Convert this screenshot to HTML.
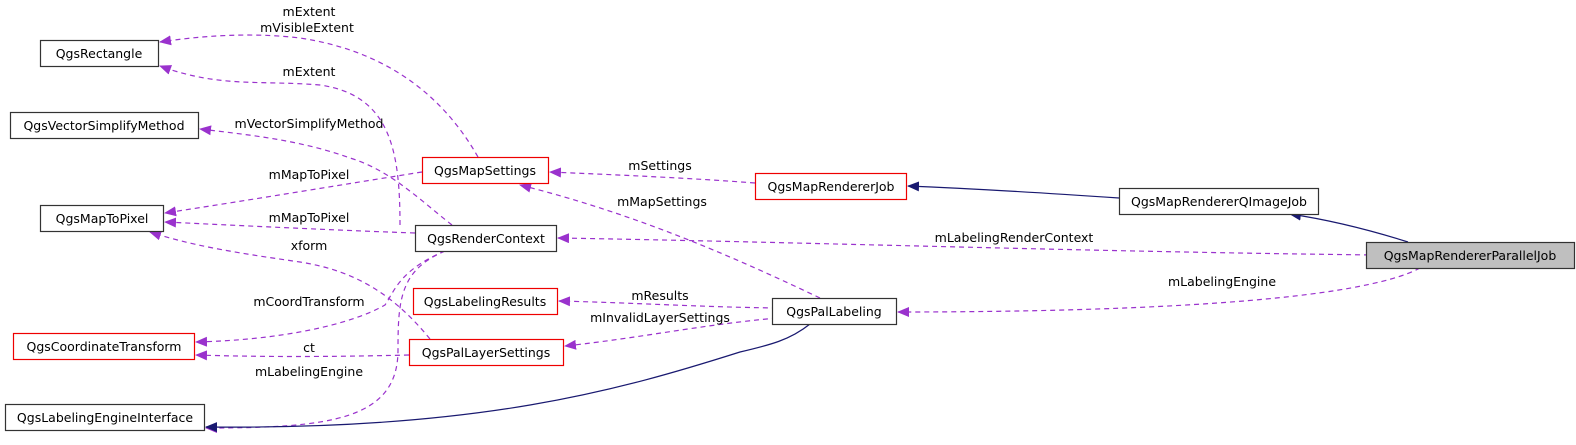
<!DOCTYPE html>
<html><head><meta charset="utf-8"><style>
html,body{margin:0;padding:0;background:#fff;}
svg text{font-family:"DejaVu Sans","Liberation Sans",sans-serif;font-size:12.5px;fill:#000;}
</style></head><body>
<svg width="1576" height="440" viewBox="0 0 1576 440" xmlns="http://www.w3.org/2000/svg">
<defs>
<marker id="p" markerWidth="12" markerHeight="10" refX="11" refY="5" orient="auto" markerUnits="userSpaceOnUse"><path d="M0,0 L12,5 L0,10 z" fill="#9a32cd"/></marker>
<marker id="b" markerWidth="12" markerHeight="10" refX="11" refY="5" orient="auto" markerUnits="userSpaceOnUse"><path d="M0,0 L12,5 L0,10 z" fill="#191970"/></marker>
</defs>
<g fill="none" stroke="#9a32cd" stroke-width="1.2" stroke-dasharray="5,4">
<path d="M478,157 C440,90 380,50 300,38 C250,32 200,36 160,42" marker-end="url(#p)"/>
<path d="M400,225 C400,150 390,95 320,85 C260,80 220,88 160,66" marker-end="url(#p)"/>
<path d="M452,225 C420,200 390,170 350,158 C300,140 250,135 200,129" marker-end="url(#p)"/>
<path d="M422,172 C340,185 250,200 165,213" marker-end="url(#p)"/>
<path d="M415,233 C330,230 250,226 165,222" marker-end="url(#p)"/>
<path d="M430,339 C390,290 350,270 300,262 C230,252 190,245 150,232" marker-end="url(#p)"/>
<path d="M445,251 C400,270 395,290 385,305 C350,325 280,340 196,342" marker-end="url(#p)"/>
<path d="M409,355 C330,357 260,357 196,355" marker-end="url(#p)"/>
<path d="M445,251 C400,270 398,300 398,350 C398,420 330,428 206,428" marker-end="url(#p)"/>
<path d="M755,183 C690,178 620,175 550,172" marker-end="url(#p)"/>
<path d="M820,298 C740,260 640,215 520,185" marker-end="url(#p)"/>
<path d="M1378,255 C1100,252 800,242 558,238" marker-end="url(#p)"/>
<path d="M777,308 C700,307 640,303 559,301" marker-end="url(#p)"/>
<path d="M777,318 C700,325 640,338 565,346" marker-end="url(#p)"/>
<path d="M1420,268 C1360,300 1150,312 898,312" marker-end="url(#p)"/>
</g>
<g fill="none" stroke="#191970" stroke-width="1.2">
<path d="M1119,198 C1030,192 960,188 908,186" marker-end="url(#b)"/>
<path d="M1408,242 C1370,230 1330,220 1290,214" marker-end="url(#b)"/>
<path d="M810,324 C790,340 770,345 740,352 C620,390 480,430 206,427" marker-end="url(#b)"/>
</g>
<g stroke-width="1.2">
<rect x="40.5" y="40.5" width="118" height="26" fill="#fff" stroke="#333"/>
<rect x="10.5" y="112.5" width="188" height="26" fill="#fff" stroke="#333"/>
<rect x="40.5" y="205.5" width="123" height="26" fill="#fff" stroke="#333"/>
<rect x="13.5" y="333.5" width="181" height="26" fill="#fff" stroke="#e00"/>
<rect x="5.5" y="404.5" width="199" height="26" fill="#fff" stroke="#333"/>
<rect x="422.5" y="157.5" width="126" height="26" fill="#fff" stroke="#e00"/>
<rect x="415.5" y="225.5" width="141" height="26" fill="#fff" stroke="#333"/>
<rect x="413.5" y="288.5" width="144" height="26" fill="#fff" stroke="#e00"/>
<rect x="409.5" y="339.5" width="154" height="26" fill="#fff" stroke="#e00"/>
<rect x="755.5" y="173.5" width="151" height="26" fill="#fff" stroke="#e00"/>
<rect x="1119.5" y="188.5" width="199" height="26" fill="#fff" stroke="#333"/>
<rect x="1366.5" y="242.5" width="208" height="26" fill="#bfbfbf" stroke="#333"/>
<rect x="772.5" y="298.5" width="124" height="26" fill="#fff" stroke="#333"/>
</g>
<g text-anchor="middle">
<text x="99" y="58">QgsRectangle</text>
<text x="104" y="130">QgsVectorSimplifyMethod</text>
<text x="102" y="223">QgsMapToPixel</text>
<text x="104" y="351">QgsCoordinateTransform</text>
<text x="105" y="422">QgsLabelingEngineInterface</text>
<text x="485" y="175">QgsMapSettings</text>
<text x="486" y="243">QgsRenderContext</text>
<text x="485" y="306">QgsLabelingResults</text>
<text x="486" y="357">QgsPalLayerSettings</text>
<text x="831" y="191">QgsMapRendererJob</text>
<text x="1219" y="206">QgsMapRendererQImageJob</text>
<text x="1470" y="260">QgsMapRendererParallelJob</text>
<text x="834" y="316">QgsPalLabeling</text>
<text x="309" y="16">mExtent</text>
<text x="307" y="32">mVisibleExtent</text>
<text x="309" y="76">mExtent</text>
<text x="309" y="128">mVectorSimplifyMethod</text>
<text x="309" y="179">mMapToPixel</text>
<text x="309" y="222">mMapToPixel</text>
<text x="309" y="250">xform</text>
<text x="309" y="306">mCoordTransform</text>
<text x="309" y="352">ct</text>
<text x="309" y="376">mLabelingEngine</text>
<text x="660" y="170">mSettings</text>
<text x="662" y="206">mMapSettings</text>
<text x="1014" y="242">mLabelingRenderContext</text>
<text x="660" y="300">mResults</text>
<text x="660" y="322">mInvalidLayerSettings</text>
<text x="1222" y="286">mLabelingEngine</text>
</g>
</svg>
</body></html>
